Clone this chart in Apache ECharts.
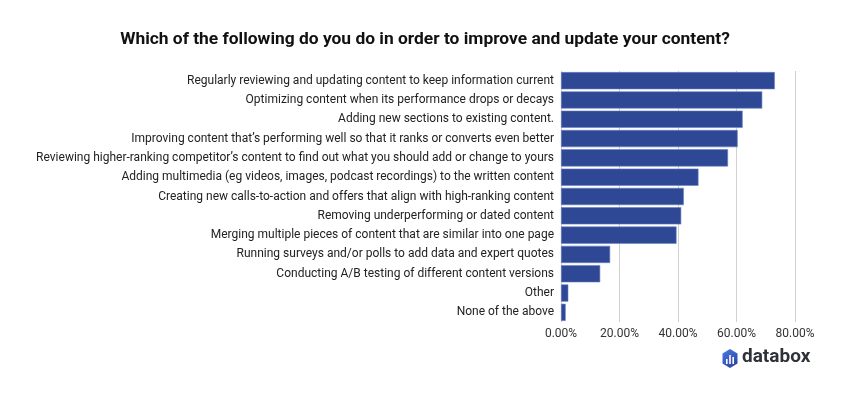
<!DOCTYPE html>
<html>
<head>
<meta charset="utf-8">
<script src="https://cdn.jsdelivr.net/npm/echarts@6/dist/echarts.min.js"></script>
<style>html,body{margin:0;padding:0;background:#fff}#c{width:850px;height:400px}</style>
</head>
<body>
<div id="c"></div>
<script>
const titleText = 'Which of the following do you do in order to improve and update your content?';
const categories = [
  'Regularly reviewing and updating content to keep information current',
  'Optimizing content when its performance drops or decays',
  'Adding new sections to existing content.',
  'Improving content that\u2019s performing well so that it ranks or converts even better',
  'Reviewing higher-ranking competitor\u2019s content to find out what you should add or change to yours',
  'Adding multimedia (eg videos, images, podcast recordings) to the written content',
  'Creating new calls-to-action and offers that align with high-ranking content',
  'Removing underperforming or dated content',
  'Merging multiple pieces of content that are similar into one page',
  'Running surveys and/or polls to add data and expert quotes',
  'Conducting A/B testing of different content versions',
  'Other',
  'None of the above'
];
const values = [73.1, 68.8, 62.1, 60.4, 57.1, 47.0, 42.0, 41.1, 39.5, 16.8, 13.4, 2.5, 1.6];
const xTicks = [0, 20, 40, 60, 80];

const chart = echarts.init(document.getElementById('c'), null, {renderer: 'canvas'});
chart.setOption({
  animation: false,
  backgroundColor: '#fff',
  title: {
    text: titleText,
    left: 'center', top: 26,
    textStyle: {fontFamily: 'Roboto', fontWeight: 'bold', fontSize: 17.4, color: '#111'}
  },
  grid: {left: 561, right: 55, top: 71, bottom: 78, containLabel: false},
  xAxis: {
    type: 'value', min: xTicks[0], max: xTicks[xTicks.length - 1], interval: 20,
    axisLine: {show: false}, axisTick: {show: false},
    splitLine: {show: true, lineStyle: {color: '#d0d0d0', width: 1}},
    axisLabel: {fontFamily: 'Roboto', fontSize: 12, color: '#333', margin: 6,
      formatter: v => v.toFixed(2) + '%'}
  },
  yAxis: {
    type: 'category', data: categories, inverse: true,
    axisLine: {show: false}, axisTick: {show: false},
    axisLabel: {fontFamily: 'Roboto', fontSize: 12, color: '#222', margin: 7}
  },
  series: [{
    type: 'bar', data: values, barCategoryGap: '11%',
    itemStyle: {color: '#2e4895', borderColor: '#6a7fbf', borderWidth: 0.6}
  }],
  graphic: [
    {type: 'polygon', shape: {points: [[730,349],[737.5,353.5],[737.5,363.5],[730,368],[722.5,363.5],[722.5,353.5]]},
      style: {fill: new echarts.graphic.LinearGradient(0,0,1,1,[{offset:0,color:'#4a7be8'},{offset:1,color:'#2a3c9c'}])}},
    {type: 'rect', shape: {x: 726, y: 359, width: 1.6, height: 5}, style: {fill: '#fff'}},
    {type: 'rect', shape: {x: 729.2, y: 355, width: 1.6, height: 9}, style: {fill: '#fff'}},
    {type: 'rect', shape: {x: 732.4, y: 357, width: 1.6, height: 7}, style: {fill: '#fff'}},
    {type: 'text', left: 742, top: 348, style: {text: 'databox', fontFamily: 'Roboto', fontWeight: 'bold', fontSize: 19, fill: '#2f3238'}}
  ]
});
</script>
</body>
</html>
